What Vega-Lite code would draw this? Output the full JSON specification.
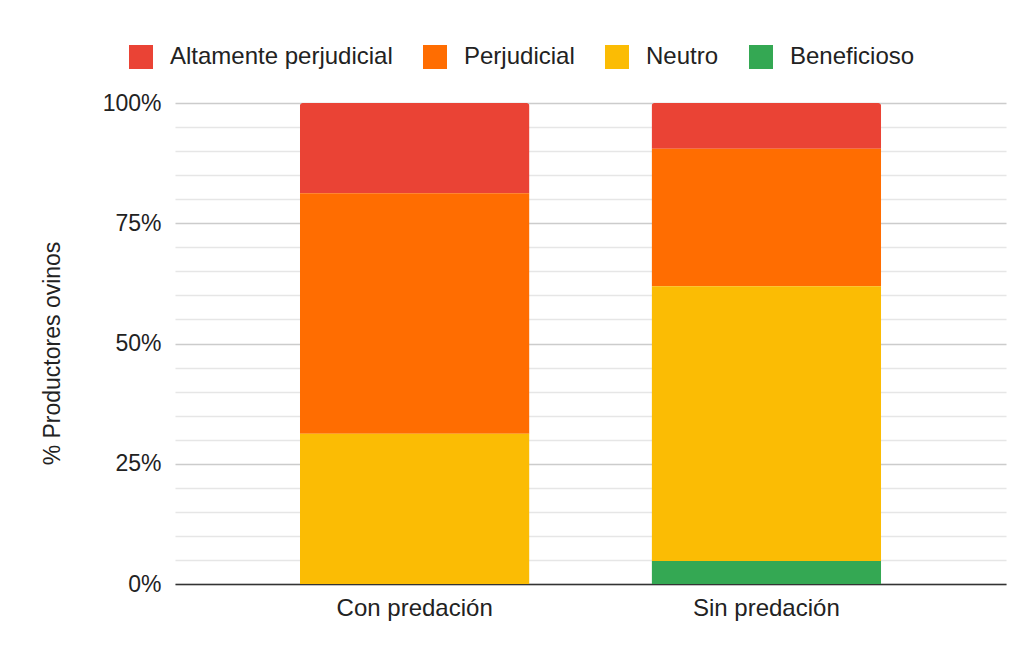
{
  "$schema": "https://vega.github.io/schema/vega-lite/v6.json",
  "width": 831,
  "height": 481,
  "autosize": {"type": "none"},
  "padding": {"left": 175, "top": 103, "right": 18, "bottom": 62},
  "background": "white",
  "config": {
    "font": "Liberation Sans",
    "view": {"stroke": null},
    "axis": {"labelFont": "Liberation Sans", "titleFont": "Liberation Sans"}
  },
  "data": {
    "values": [
      {"grupo": "Con predación", "categoria": "Altamente perjudicial", "porcentaje": 18.75},
      {"grupo": "Con predación", "categoria": "Perjudicial", "porcentaje": 50.0},
      {"grupo": "Con predación", "categoria": "Neutro", "porcentaje": 31.25},
      {"grupo": "Con predación", "categoria": "Beneficioso", "porcentaje": 0},
      {"grupo": "Sin predación", "categoria": "Altamente perjudicial", "porcentaje": 9.52},
      {"grupo": "Sin predación", "categoria": "Perjudicial", "porcentaje": 28.57},
      {"grupo": "Sin predación", "categoria": "Neutro", "porcentaje": 57.15},
      {"grupo": "Sin predación", "categoria": "Beneficioso", "porcentaje": 4.76}
    ]
  },
  "transform": [
    {"calculate": "indexof(['Beneficioso','Neutro','Perjudicial','Altamente perjudicial'], datum.categoria)", "as": "orden"}
  ],
  "mark": {"type": "bar", "cornerRadiusTopLeft": 3, "cornerRadiusTopRight": 3},
  "encoding": {
    "x": {
      "field": "grupo",
      "type": "nominal",
      "sort": null,
      "scale": {"paddingInner": 0.347, "paddingOuter": 0.355},
      "axis": {
        "title": null,
        "labelAngle": 0,
        "labelFontSize": 24,
        "labelColor": "#222222",
        "labelPadding": 12,
        "ticks": false,
        "domainColor": "#333333",
        "domainWidth": 1.5
      }
    },
    "y": {
      "field": "porcentaje",
      "type": "quantitative",
      "stack": "normalize",
      "scale": {"domain": [0, 1], "nice": false},
      "axis": {
        "title": "% Productores ovinos",
        "titleFontSize": 23,
        "titleFontWeight": "normal",
        "titleColor": "#222222",
        "titlePadding": 38,
        "titleY": 250,
        "format": ".0%",
        "values": [0, 0.05, 0.1, 0.15, 0.2, 0.25, 0.3, 0.35, 0.4, 0.45, 0.5, 0.55, 0.6, 0.65, 0.7, 0.75, 0.8, 0.85, 0.9, 0.95, 1],
        "labelExpr": "round(datum.value*100) % 25 === 0 ? datum.label : ''",
        "labelFontSize": 23,
        "labelColor": "#222222",
        "labelPadding": 14,
        "ticks": false,
        "domain": false,
        "gridColor": {"condition": {"test": "round(datum.value*100) % 25 === 0", "value": "#cccccc"}, "value": "#e6e6e6"},
        "gridWidth": 1.5
      }
    },
    "color": {
      "field": "categoria",
      "type": "nominal",
      "scale": {
        "domain": ["Altamente perjudicial", "Perjudicial", "Neutro", "Beneficioso"],
        "range": ["#ea4335", "#ff6d01", "#fbbc04", "#34a853"]
      },
      "legend": {
        "title": null,
        "orient": "none",
        "direction": "horizontal",
        "legendX": -46,
        "legendY": -58,
        "symbolType": "square",
        "symbolSize": 576,
        "symbolStrokeWidth": 0,
        "symbolOpacity": 1,
        "labelFontSize": 24,
        "labelLimit": 400,
        "labelColor": "#222222",
        "labelOffset": 17,
        "columnPadding": 30,
        "labelFont": "Liberation Sans"
      }
    },
    "order": {"field": "orden", "type": "quantitative", "sort": "ascending"}
  }
}
